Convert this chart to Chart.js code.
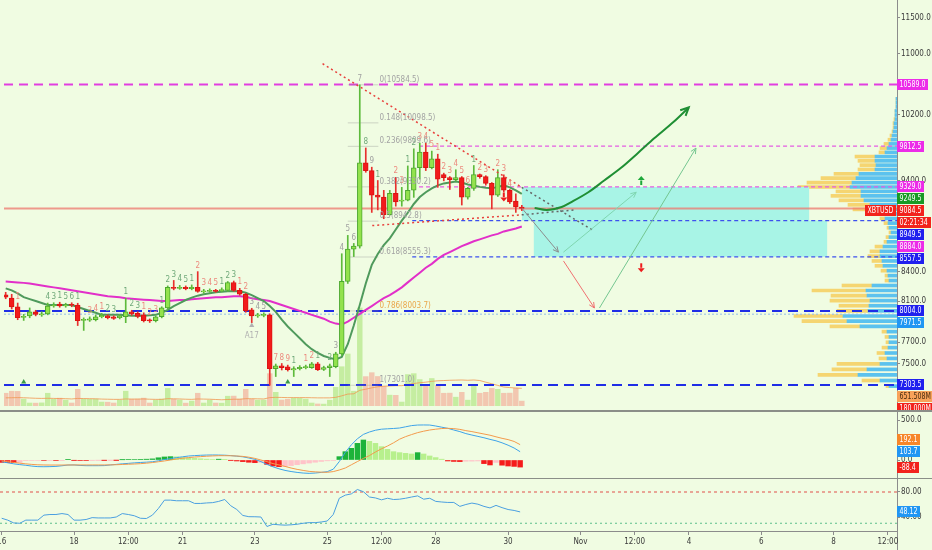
<!DOCTYPE html>
<html>
<head>
<meta charset="utf-8">
<title>XBTUSD 4h</title>
<script src="https://cdn.jsdelivr.net/npm/chart.js@4.4.1/dist/chart.umd.min.js"></script>
<style>
  html, body { margin: 0; padding: 0; }
  body { width: 932px; height: 550px; overflow: hidden; background: #f0fce2; position: relative; }
  .box { position: absolute; left: 0; }
  .sep { position: absolute; left: 0; width: 932px; background: #8b8e88; }
  .vline { position: absolute; left: 897px; top: 0; width: 1px; height: 550px; background: #8c8c8c; }
</style>
</head>
<body>
<div class="vline"></div>
<div class="box" style="top:0;width:897px;height:410px"><canvas id="profile"></canvas></div>
<div class="box" style="top:0;width:932px;height:410px"><canvas id="price"></canvas></div>
<div class="sep" style="top:410px;height:2px"></div>
<div class="box" style="top:412px;width:932px;height:66px"><canvas id="macd"></canvas></div>
<div class="sep" style="top:478px;height:1px"></div>
<div class="box" style="top:479px;width:932px;height:71px"><canvas id="rsi"></canvas></div>
<script>
// 4h candles, first one on Oct 16 00:00 (x axis is in days, Nov 1 = 32)
const FIRST_DAY = 16;
const BARS_PER_DAY = 6;
const SYMBOL = 'XBTUSD';
const COUNTDOWN = '02:21:34';

const opens = [8165,8131,8043,7940,7955,7994,7965,7975,8052,8072, 8052,8070,8062,7910,7912,7917,7946,7955,7945,7936,
  7946,7994,7980,7965,7915,7907,7946,8033,8240,8230, 8240,8228,8240,8195,8200,8210,8205,8210,8290,8210,
  8170,8014,7955,7960,7965,7452,7479,7470,7440,7452, 7461,7461,7497,7445,7461,7470,7590,8301,8639,8671,
  9612,9519,9235,9213,9014,9257,9168,9179,9291,9553, 9740,9553,9660,9473,9438,9415,9438,9213,9313,9473,
  9450,9370,9235,9438,9291,9168,9101];
const highs = [8190,8170,8082,7970,8033,8010,7995,8082,8085,8090, 8080,8085,8080,7935,7945,7965,7980,7965,7955,7970,
  8131,8010,7995,7985,7925,7955,8045,8255,8311,8260, 8255,8265,8402,8220,8225,8220,8235,8300,8305,8230,
  8180,8030,7980,7985,7975,7495,7500,7485,7470,7480, 7485,7510,7510,7475,7495,7605,8590,8787,8700,10584.5,
  9790,9560,9404,9290,9290,9440,9325,9575,9780,9850, 9850,9752,9715,9490,9450,9530,9450,9325,9580,9480,
  9460,9380,9530,9470,9300,9250,9120];
const lows = [8125,8023,7917,7910,7936,7955,7950,7965,8040,8040, 8040,8045,7860,7813,7900,7905,7935,7925,7920,7925,
  7888,7960,7935,7895,7890,7895,7935,8025,8215,8220, 8215,8215,8190,8180,8190,8190,8195,8200,8200,8160,
  7990,7888,7940,7945,7301,7380,7440,7430,7380,7440, 7450,7455,7435,7435,7380,7460,7575,8280,8560,8650,
  9500,9040,9068,8970,9010,9110,9110,9170,9210,9420, 9520,9540,9325,9400,9300,9400,9123,9190,9290,9430,
  9350,9080,9220,9270,9140,9040,9060];
const closes = [8141,8043,7936,7950,7994,7968,7975,8052,8062,8052, 8065,8060,7907,7920,7925,7946,7960,7936,7930,7955,
  7994,7975,7950,7907,7905,7946,8033,8240,8230,8240, 8228,8240,8200,8203,8210,8200,8218,8290,8210,8170,
  8004,7955,7965,7970,7452,7479,7461,7442,7452,7465, 7470,7497,7443,7461,7479,7589,8301,8639,8671,9612,
  9519,9235,9213,9014,9257,9157,9179,9291,9553,9740, 9553,9660,9420,9438,9415,9438,9213,9313,9473,9450,
  9370,9235,9438,9291,9157,9101,9084.5];
// volume in millions of contracts
const volumes = [470,545,540,255,110,105,115,470,250,290, 215,110,615,255,250,255,145,140,110,220,
  545,250,255,290,110,215,255,650,250,220, 105,180,470,110,215,110,105,360,365,255,
  615,250,215,220,1195,505,220,250,290,285, 255,110,75,70,215,690,1450,1920,545,3620,
  1085,1230,1090,725,400,395,145,1160,1195,975, 795,1015,760,470,475,325,505,215,800,470,
  505,650,615,470,475,655,180];
const volumeMA = [300,305,310,305,295,285,280,285,280,275, 270,260,280,275,270,265,255,250,245,245,
  260,255,255,260,250,245,245,270,265,260, 250,245,260,255,250,240,230,240,250,250,
  270,270,265,260,310,320,315,310,310,310, 310,305,300,300,300,320,375,440,450,580,
  620,670,710,730,740,750,750,790,830,860, 880,910,930,940,950,955,960,950,960,940,
  880,820,760,700,680,665,651.508];
const emaFast = [8230,8210,8180,8141,8121,8102,8082,8062,8062,8062, 8062,8062,8043,8023,8004,7985,7965,7965,7965,7965,
  7960,7955,7955,7955,7960,7965,7985,8014,8052,8082, 8112,8136,8156,8171,8180,8190,8195,8200,8200,8200,
  8185,8161,8131,8102,8052,7994,7917,7851,7794,7737, 7681,7634,7598,7570,7552,7538,7561,7681,7860,8062,
  8280,8473,8587,8681,8755,8851,8948,9036,9135,9213, 9268,9313,9347,9370,9381,9393,9381,9358,9347,9330,
  9319,9313,9330,9347,9325,9291,9249.5];
const emaSlow = [8301,8296,8291,8286,8280,8270,8260,8250,8240,8230, 8220,8210,8200,8190,8180,8171,8161,8151,8146,8141,
  8131,8126,8121,8116,8112,8107,8102,8102,8107,8112, 8112,8121,8126,8131,8136,8141,8141,8146,8151,8151,
  8146,8131,8121,8112,8102,8082,8062,8043,8023,8004, 7985,7965,7946,7927,7898,7879,7870,7898,7936,7975,
  8014,8052,8092,8131,8161,8200,8240,8291,8341,8391, 8442,8483,8535,8577,8608,8639,8671,8697,8723,8744,
  8765,8787,8803,8830,8846,8862,8884];
const macdLine = [-22,-35,-48,-58,-66,-76,-83,-84,-83,-80, -72,-63,-62,-68,-71,-71,-71,-70,-62,-55,
  -48,-42,-36,-31,-27,-22,-10,5,18,30, 40,50,55,59,62,63,62,60,55,48,
  40,25,8,-20,-55,-85,-110,-130,-144,-155, -163,-167,-163,-155,-146,-115,-20,95,190,265,
  320,350,372,385,390,394,400,415,430,437, 438,437,425,410,396,375,355,330,312,295,
  278,258,240,215,185,150,103.7];
const signalLine = [-12,-20,-30,-40,-48,-55,-60,-62,-63,-63, -63,-62,-62,-62,-62,-62,-62,-62,-61,-59,
  -56,-53,-50,-46,-40,-32,-22,-12,0,12, 22,30,37,42,47,51,54,54,53,50,
  45,35,20,0,-20,-45,-62,-80,-100,-117, -130,-142,-148,-152,-154,-145,-125,-100,-60,-20,
  20,55,100,140,175,215,260,292,318,342, 360,375,385,393,396,392,383,367,355,340,
  325,310,290,271,255,232,192.1];
const macdHist = [-30,-32,-33,-30,-8,-7,-6,-6,-5,-5, -4,4,-3,-5,-5,-3,-2,-2,-1,-1,
  3,5,6,8,10,14,28,38,42,40, 32,26,20,15,10,6,10,4,-3,-12,
  -20,-28,-33,-30,-55,-75,-83,-80,-70,-58, -48,-38,-28,-18,-10,-5,42,104,146,208,
  250,233,208,167,133,104,92,83,75,92, 75,50,30,10,-12,-18,-20,-15,-14,-12,
  -45,-62,-30,-65,-75,-80,-88.4];
const rsiLine = [38,35,30.5,30,35,35,35,43,44,44, 45.5,44,35,35,36,39,38.5,38.5,38.5,40,
  45.5,44,42,38,37.6,43,53.7,67,67,66, 66,66,61.7,61.7,62.5,63,65,68,58,52,
  42.5,40.5,40.4,40,24.8,28.4,27.5,27,27.5,28.4, 30,31,31,32,33.6,44,70,75,77,84,
  80.5,72,70.5,67.5,70,68,68.5,70,72,73.8, 68.5,70,65,64,63.3,63.3,57,60,62.3,60.5,
  57,54.5,58.6,55,52,50.5,48.12];
const rsiUpper = 80, rsiLower = 30;

// visible range volume profile, rows of 50 USD (row centres)
const profilePrices = [7325,7375,7425,7475,7525,7575,7625,7675,7725,7775, 7825,7875,7925,7975,8025,8075,8125,8175,8225,8275,
  8325,8375,8425,8475,8525,8575,8625,8675,8725,8775, 8825,8875,8925,8975,9025,9075,9125,9175,9225,9275,
  9325,9375,9425,9475,9525,9575,9625,9675,9725,9775, 9825,9875,9925,9975,10025,10075,10125,10175,10225,10275,
  10325,10375];
const profileUp = [8,17,39,30,17,10,12,9,8,8, 10,37,50,54,29,28,27,30,31,25,
  8,9,10,14,15,17,17,14,10,8, 6,8,9,12,18,22,27,33,36,36,
  47,45,41,38,22,21,22,22,12,10, 8,6,5,4,3,3,2,2,2,1, 1,1];
const profileDown = [3,18,40,35,43,8,8,6,3,4, 5,30,45,49,31,30,40,36,54,30,
  4,3,6,8,10,12,10,8,3,3, 2,2,4,5,12,22,22,25,30,25,
  52,45,35,25,17,16,17,20,6,7, 5,3,2,1,1,1,1,0,0,0, 0,0];

const levelPrices = [10589.0, 9812.5, 9329.0, 8949.5, 8557.5, 8004.0, 7971.5, 7303.5];
const levelStartDays = [null, 27.48, 27.48, 27.29, 27.29, null, null, null];
const fibRatios = [0, 0.148, 0.236, 0.382, 0.5, 0.618, 0.786, 1];
const fibPrices = [10584.5, 10098.5, 9809.6, 9330.2, 8942.8, 8555.3, 8003.7, 7301.0];

const zoneStart = [30.33, 30.66];
const zoneEnd = [38.32, 38.82];
const zoneTop = [9329.0, 8949.5];
const zoneBottom = [8949.5, 8557.5];

// drawings: [day, price]
const upperTrend = [[24.80, 10865], [30.33, 9325]];
const upperTrendExt = [[30.33, 9325], [32.32, 8840]];
const lowerTrend = [[26.18, 8894], [30.33, 9013]];
const lowerTrendExt = [[30.33, 9013], [31.79, 9068]];
const bullPath = [[30.69, 9090], [31.02, 9068], [31.44, 9101], [31.71, 9157], [32.18, 9268], [32.62, 9404],
  [33.09, 9553], [33.56, 9730], [34.01, 9907], [34.56, 10115], [34.97, 10293]];
const dropArrow = [[30.33, 9090], [31.35, 8607]];
const bounceArrow = [[31.49, 8607], [33.51, 9268]];
const deepDropArrow = [[31.49, 8514], [32.35, 8033]];
const recoveryArrow = [[32.49, 8033], [35.17, 9788]];
const signalUp = [[33.65, 9404]];
const signalDown = [[33.65, 8442], [29.833, 9213]];
const buyMarks = [[16.5, 7330], [23.833, 7330]];
const grayMarks = [[22.833, 7860]];
const notes = [[22.833, 7756, 'A17']];

// TD sequential counts: [bar, text, tone]
const tdMarks = [[2,'1','r'],[7,'4','g'],[8,'3','g'],[9,'1','g'],[10,'5','g'],[11,'6','g'],[12,'1','g'],
  [14,'3','r'],[15,'4','r'],[16,'1','r'],[17,'2','g'],[18,'3','g'],[20,'1','g'],[21,'2','g'],[22,'3','g'],
  [23,'1','r'],[24,'2','r'],[25,'3','r'],[26,'1','g'],[27,'2','g'],[28,'3','g'],[29,'4','g'],[30,'5','g'],
  [31,'1','g'],[32,'2','r'],[33,'3','r'],[34,'4','r'],[35,'5','r'],[36,'1','g'],[37,'2','g'],[38,'3','g'],
  [39,'1','r'],[40,'2','r'],[41,'3','k'],[42,'4','k'],[43,'5','k'],[45,'7','r'],[46,'8','r'],[47,'9','r'],
  [48,'1','g'],[50,'1','r'],[51,'2','r'],[52,'1','g'],[54,'2','g'],[55,'3','k'],[56,'4','k'],[57,'5','k'],
  [58,'6','k'],[59,'7','k'],[60,'8','g'],[61,'9','k'],[62,'1','g'],[65,'2','r'],[66,'3','r'],[67,'1','g'],
  [68,'2','g'],[69,'3','r'],[70,'4','r'],[71,'5','r'],[72,'1','r'],[73,'2','r'],[74,'3','r'],[75,'4','r'],
  [76,'5','r'],[77,'6','r'],[78,'1','g'],[79,'2','r'],[80,'3','r'],[82,'2','r'],[83,'3','r'],[84,'4','r']];

const xTickDays = [16, 18, 19.5, 21, 23, 25, 26.5, 28, 30, 32, 33.5, 35, 37, 39, 40.5];
const xTickLabels = ['16','18','12:00','21','23','25','12:00','28','30','Nov','12:00','4','6','8','12:00'];
const priceTicks = [7500, 7700, 8100, 8400, 9400, 10200, 11000, 11500];
const macdTicks = [0, 500];
const rsiTicks = [40, 80];

// ---- scales / look ----
const X_MIN = 15.953, X_MAX = 40.753;
const PRICE_MIN = 7116, PRICE_MAX = 11697;
const VOL_MAX = 14842;
const PROFILE_MAX = 897;
const AXIS_W = 35;
const FONT = '"Liberation Sans Narrow", "DejaVu Sans Condensed", "Liberation Sans", sans-serif';
const TAG_FONT = '8.5px ' + FONT;
const TAG_SQUEEZE = 0.82;
const TAG_BOX = 11, TAG_STEP = 12;

Chart.defaults.font.family = FONT;
Chart.defaults.font.size = 8;
Chart.defaults.color = '#3a3a3a';
Chart.defaults.animation = false;
Chart.defaults.plugins.legend.display = false;
Chart.defaults.plugins.tooltip.enabled = false;

const last = a => a[a.length - 1];
const barDay = i => FIRST_DAY + i / BARS_PER_DAY;
const days = opens.map((_, i) => barDay(i));
const isUp = i => closes[i] >= opens[i];

function line(points, o) {
  return Object.assign({
    type: 'line', data: points.map(p => ({ x: p[0], y: p[1] })),
    pointRadius: 0, borderWidth: 1, fill: false, tension: 0
  }, o);
}
function series(values, o) {
  return Object.assign({
    type: 'line', data: values.map((v, i) => ({ x: days[i], y: v })),
    pointRadius: 0, borderWidth: 1, fill: false, tension: 0
  }, o);
}
function rightAxis(extra) {
  return Object.assign({
    position: 'right',
    afterFit(s) { s.width = AXIS_W; s.paddingTop = 0; s.paddingBottom = 0; },
    grid: { drawOnChartArea: false, drawTicks: true, tickLength: 3, color: '#8c8c8c' },
    border: { display: true, color: '#8c8c8c' },
    ticks: { padding: 1, autoSkip: false, color: '#3a3a3a' }
  }, extra);
}
function timeAxis(show) {
  return {
    type: 'linear', min: X_MIN, max: X_MAX, offset: false, display: show,
    afterFit(s) { s.paddingLeft = 0; s.paddingRight = 0; if (show) s.height = 19; },
    afterBuildTicks(s) { s.ticks = xTickDays.map(v => ({ value: v })); },
    grid: { drawOnChartArea: false, drawTicks: true, tickLength: 4, color: '#8c8c8c' },
    border: { display: true, color: '#8c8c8c' },
    ticks: { autoSkip: false, maxRotation: 0, padding: 2, color: '#3a3a3a', callback: (v, i) => xTickLabels[i] }
  };
}

function stackTags(tags, step, dir) {
  const list = tags.slice().sort((a, b) => dir > 0 ? a.y - b.y : b.y - a.y);
  let prev = null;
  list.forEach(t => {
    if (prev !== null) t.y = dir > 0 ? Math.max(t.y, prev + step) : Math.min(t.y, prev - step);
    prev = t.y;
  });
  return list;
}
function tagWidth(ctx, text) {
  ctx.font = TAG_FONT;
  return Math.ceil(ctx.measureText(text).width * TAG_SQUEEZE) + 5;
}
function drawTag(ctx, x, y, text, bg, fg) {
  const w = tagWidth(ctx, text);
  const top = Math.round(y - TAG_BOX / 2);
  ctx.fillStyle = bg;
  ctx.fillRect(x, top, w, TAG_BOX);
  ctx.save();
  ctx.fillStyle = fg;
  ctx.textAlign = 'left';
  ctx.textBaseline = 'middle';
  ctx.translate(x + 2.5, top + TAG_BOX / 2 + 0.5);
  ctx.scale(TAG_SQUEEZE, 1);
  ctx.fillText(text, 0, 0);
  ctx.restore();
}
function tagPlugin(build, dir) {
  return {
    id: 'axisTags',
    afterDraw(chart) {
      const ctx = chart.ctx, right = chart.chartArea.right;
      ctx.save();
      stackTags(build(chart), TAG_STEP, dir).forEach(t => {
        drawTag(ctx, right, t.y, t.text, t.bg, t.fg);
        if (t.symbol) drawTag(ctx, right - tagWidth(ctx, t.symbol) - 1, t.y, t.symbol, t.bg, t.fg);
      });
      ctx.restore();
    }
  };
}
function arrowIcon(ctx, x, y, dir, color) {
  // dir -1 points up, 1 points down
  ctx.fillStyle = color;
  ctx.beginPath();
  ctx.moveTo(x, y + dir * 4.5);
  ctx.lineTo(x - 3.5, y + dir * 0.5);
  ctx.lineTo(x + 3.5, y + dir * 0.5);
  ctx.closePath();
  ctx.fill();
  ctx.fillRect(x - 1, dir < 0 ? y : y - 4.5, 2, 4.5);
}

// ---- price pane ----
const LEVEL_STYLE = [
  { c: '#e13ee0', w: 2, d: [9, 6] }, { c: '#e35ce2', w: 1.2, d: [4, 3] }, { c: '#e35ce2', w: 1.2, d: [4, 3] },
  { c: '#3c50ee', w: 1.2, d: [4, 3] }, { c: '#3c50ee', w: 1.2, d: [4, 3] }, { c: '#1f2de6', w: 2, d: [10, 6] },
  { c: '#93bde8', w: 1, d: [2, 2] }, { c: '#1f2de6', w: 2, d: [10, 6] }
];
const LEVEL_TAG = ['#ec2ce8', '#ec2ce8', '#ec2ce8', '#2020ee', '#2020ee', '#2020ee', '#2196f3', '#2020ee'];
const TD_COLOR = { g: '#70a97a', r: '#ec8a7e', k: '#a0a0a0' };

const priceSets = [];
zoneStart.forEach((s, k) => priceSets.push(line([[s, zoneTop[k]], [zoneEnd[k], zoneTop[k]]], {
  borderColor: 'rgba(0,0,0,0)', backgroundColor: '#a8f4e6', fill: { value: zoneBottom[k] }, order: 100 - k
})));
priceSets.push({
  type: 'bar', yAxisID: 'vol', data: days.map((d, i) => ({ x: d, y: volumes[i] })),
  backgroundColor: days.map((d, i) => isUp(i) ? 'rgba(150,222,90,0.48)' : 'rgba(245,135,115,0.45)'),
  barThickness: 4.8, grouped: false, order: 95
});
priceSets.push(series(volumeMA, { yAxisID: 'vol', borderColor: 'rgba(240,150,80,0.8)', order: 94 }));
levelPrices.forEach((p, k) => {
  const st = LEVEL_STYLE[k];
  priceSets.push(line([[levelStartDays[k] ?? X_MIN, p], [X_MAX, p]], {
    borderColor: st.c, borderWidth: st.w, borderDash: st.d, order: 90 - k
  }));
});
fibPrices.forEach((p, k) => priceSets.push(line([[25.5, p], [26.35, p]], {
  borderColor: 'rgba(140,140,140,0.35)', order: 80
})));
priceSets.push(line([[X_MIN, last(closes)], [X_MAX, last(closes)]], {
  borderColor: 'rgba(238,120,110,0.75)', borderWidth: 2, order: 78
}));
priceSets.push(series(emaSlow, { borderColor: '#e22fc9', borderWidth: 2, order: 75 }));
priceSets.push(series(emaFast, { borderColor: '#4f9a5c', borderWidth: 2, order: 74 }));
priceSets.push({
  type: 'bar', data: days.map((d, i) => ({ x: d, y: [lows[i], highs[i]] })),
  backgroundColor: days.map((d, i) => isUp(i) ? '#5dba3b' : '#e8302e'),
  barThickness: 1, grouped: false, minBarLength: 1, order: 70
});
priceSets.push({
  type: 'bar', data: days.map((d, i) => ({ x: d, y: [opens[i], closes[i]] })),
  backgroundColor: days.map((d, i) => isUp(i) ? '#93e24d' : '#f21b1b'),
  borderColor: days.map((d, i) => isUp(i) ? '#4ca82e' : '#dc1212'),
  borderWidth: 1, borderSkipped: false, barThickness: 4.8, grouped: false, minBarLength: 1, order: 69
});
priceSets.push(line(upperTrend, { borderColor: '#e8403c', borderWidth: 1.5, borderDash: [2, 3], order: 60 }));
priceSets.push(line(upperTrendExt, { borderColor: '#666666', borderWidth: 1.5, borderDash: [2, 3], order: 59 }));
priceSets.push(line(lowerTrend, { borderColor: '#e8403c', borderWidth: 1.5, borderDash: [2, 3], order: 58 }));
priceSets.push(line(lowerTrendExt, { borderColor: '#666666', borderWidth: 1.5, borderDash: [2, 3], order: 57 }));
priceSets.push(line(dropArrow, { borderColor: '#8c8c8c', arrowHead: 6, order: 55 }));
priceSets.push(line(bounceArrow, { borderColor: '#7fd6b0', arrowHead: 6, order: 54 }));
priceSets.push(line(deepDropArrow, { borderColor: '#f07070', arrowHead: 6, order: 53 }));
priceSets.push(line(recoveryArrow, { borderColor: '#74c690', arrowHead: 6, order: 52 }));
priceSets.push(line(bullPath, { borderColor: '#1f8f34', borderWidth: 2, cubicInterpolationMode: 'monotone', arrowHead: 9, order: 50 }));
priceSets.push(line(buyMarks, { showLine: false, pointRadius: 3, pointStyle: 'triangle', pointBackgroundColor: '#3a9a4a', pointBorderWidth: 0, order: 40 }));
priceSets.push(line(grayMarks, { showLine: false, pointRadius: 3, pointStyle: 'triangle', pointBackgroundColor: '#b0b0b0', pointBorderWidth: 0, order: 41 }));

const priceMarks = {
  id: 'priceMarks',
  afterDatasetsDraw(chart) {
    const ctx = chart.ctx, xs = chart.scales.x, ys = chart.scales.y;
    ctx.save();
    chart.data.datasets.forEach((ds, k) => {
      if (!ds.arrowHead) return;
      const pts = chart.getDatasetMeta(k).data;
      const a = pts[pts.length - 2], b = pts[pts.length - 1];
      const ang = Math.atan2(b.y - a.y, b.x - a.x), L = ds.arrowHead;
      ctx.strokeStyle = ds.borderColor;
      ctx.lineWidth = ds.borderWidth;
      ctx.setLineDash([]);
      ctx.beginPath();
      ctx.moveTo(b.x - L * Math.cos(ang - 0.45), b.y - L * Math.sin(ang - 0.45));
      ctx.lineTo(b.x, b.y);
      ctx.lineTo(b.x - L * Math.cos(ang + 0.45), b.y - L * Math.sin(ang + 0.45));
      ctx.stroke();
    });
    ctx.font = '8px ' + FONT;
    ctx.textAlign = 'center';
    ctx.textBaseline = 'bottom';
    tdMarks.forEach(([i, t, tone]) => {
      ctx.fillStyle = TD_COLOR[tone];
      ctx.fillText(t, xs.getPixelForValue(barDay(i)), ys.getPixelForValue(highs[i]) - 2);
    });
    ctx.textAlign = 'left';
    fibRatios.forEach((r, k) => {
      ctx.fillStyle = r === 0.786 ? '#eaa64a' : '#a3a3a3';
      ctx.fillText(`${r}(${fibPrices[k].toFixed(1)})`, xs.getPixelForValue(26.38), ys.getPixelForValue(fibPrices[k]) - 1);
    });
    ctx.textAlign = 'center';
    ctx.textBaseline = 'middle';
    notes.forEach(([d, p, t]) => {
      ctx.fillStyle = '#b0b0b0';
      ctx.fillText(t, xs.getPixelForValue(d), ys.getPixelForValue(p));
    });
    signalUp.forEach(([d, p]) => arrowIcon(ctx, xs.getPixelForValue(d), ys.getPixelForValue(p), -1, '#1ea83a'));
    signalDown.forEach(([d, p]) => arrowIcon(ctx, xs.getPixelForValue(d), ys.getPixelForValue(p), 1, '#ee1c1c'));
    ctx.restore();
  }
};

new Chart(document.getElementById('price'), {
  type: 'bar',
  data: { datasets: priceSets },
  options: {
    responsive: true, maintainAspectRatio: false, layout: { padding: 0 },
    scales: {
      x: timeAxis(false),
      y: rightAxis({
        type: 'logarithmic', min: PRICE_MIN, max: PRICE_MAX, bounds: 'data',
        afterBuildTicks(s) { s.ticks = priceTicks.map(v => ({ value: v })); },
        ticks: { padding: 1, autoSkip: false, color: '#3a3a3a', callback: v => Number(v).toFixed(1) }
      }),
      vol: { type: 'linear', display: false, min: 0, max: VOL_MAX }
    }
  },
  plugins: [priceMarks, tagPlugin(chart => {
    const ys = chart.scales.y, vs = chart.scales.vol;
    const tags = levelPrices.map((p, k) => ({ y: ys.getPixelForValue(p), text: p.toFixed(1), bg: LEVEL_TAG[k], fg: '#ffffff' }));
    tags.push({ y: ys.getPixelForValue(last(emaFast)), text: last(emaFast).toFixed(1), bg: '#179a25', fg: '#ffffff' });
    tags.push({ y: ys.getPixelForValue(last(emaSlow)), text: last(emaSlow).toFixed(1), bg: '#ec2ce8', fg: '#ffffff' });
    const cy = ys.getPixelForValue(last(closes));
    tags.push({ y: cy, text: last(closes).toFixed(1), bg: '#f2231c', fg: '#ffffff', symbol: SYMBOL });
    tags.push({ y: cy + 0.01, text: COUNTDOWN, bg: '#f2231c', fg: '#ffffff' });
    tags.push({ y: vs.getPixelForValue(last(volumeMA)), text: last(volumeMA).toFixed(3) + 'M', bg: '#f8a25a', fg: '#4a2d10' });
    tags.push({ y: vs.getPixelForValue(last(volumes)), text: last(volumes).toFixed(3) + 'M', bg: '#f2231c', fg: '#ffffff' });
    return tags;
  }, 1)]
});

// ---- volume profile (drawn under the price pane) ----
new Chart(document.getElementById('profile'), {
  type: 'bar',
  data: {
    datasets: [
      { data: profilePrices.map((p, i) => ({ y: p, x: profileUp[i] })), backgroundColor: '#5cc2ee', barThickness: 3 },
      { data: profilePrices.map((p, i) => ({ y: p, x: profileDown[i] })), backgroundColor: '#f5d571', barThickness: 3 }
    ]
  },
  options: {
    indexAxis: 'y', responsive: true, maintainAspectRatio: false, layout: { padding: 0 },
    scales: {
      y: { type: 'logarithmic', min: PRICE_MIN, max: PRICE_MAX, display: false, stacked: true, offset: false },
      x: { type: 'linear', min: 0, max: PROFILE_MAX, reverse: true, display: false, stacked: true }
    }
  }
});

// ---- MACD pane ----
function histColor(i) {
  const v = macdHist[i], p = i > 0 ? macdHist[i - 1] : v;
  if (v >= 0) return v >= p ? '#1db33a' : '#b7f08d';
  return v <= p ? '#f51b1b' : '#ffc3c9';
}
new Chart(document.getElementById('macd'), {
  type: 'bar',
  data: {
    datasets: [
      series(signalLine, { borderColor: '#f39a4c', order: 1 }),
      series(macdLine, { borderColor: '#3ea3e8', order: 2 }),
      { type: 'bar', data: days.map((d, i) => ({ x: d, y: macdHist[i] })), backgroundColor: days.map((d, i) => histColor(i)),
        barThickness: 4.8, grouped: false, order: 3 }
    ]
  },
  options: {
    responsive: true, maintainAspectRatio: false, layout: { padding: 0 },
    scales: {
      x: timeAxis(false),
      y: rightAxis({
        type: 'linear', min: -225, max: 600,
        afterBuildTicks(s) { s.ticks = macdTicks.map(v => ({ value: v })); },
        ticks: { padding: 1, autoSkip: false, color: '#3a3a3a', callback: v => Number(v).toFixed(1) }
      })
    }
  },
  plugins: [tagPlugin(chart => {
    const ys = chart.scales.y;
    return [
      { y: ys.getPixelForValue(last(signalLine)), text: last(signalLine).toFixed(1), bg: '#f7862a', fg: '#ffffff' },
      { y: ys.getPixelForValue(last(macdLine)), text: last(macdLine).toFixed(1), bg: '#2196f3', fg: '#ffffff' },
      { y: ys.getPixelForValue(last(macdHist)), text: last(macdHist).toFixed(1), bg: '#f2231c', fg: '#ffffff' }
    ];
  }, -1)]
});

// ---- RSI pane ----
new Chart(document.getElementById('rsi'), {
  type: 'line',
  data: {
    datasets: [
      series(rsiLine, { borderColor: '#4a9fe0' }),
      line([[X_MIN, rsiUpper], [X_MAX, rsiUpper]], { borderColor: '#e0504a', borderDash: [3, 3] }),
      line([[X_MIN, rsiLower], [X_MAX, rsiLower]], { borderColor: '#5cbf8a', borderDash: [2, 3] })
    ]
  },
  options: {
    responsive: true, maintainAspectRatio: false, layout: { padding: 0 },
    scales: {
      x: timeAxis(true),
      y: rightAxis({
        type: 'linear', min: 17.6, max: 100.8,
        afterBuildTicks(s) { s.ticks = rsiTicks.map(v => ({ value: v })); },
        ticks: { padding: 1, autoSkip: false, color: '#3a3a3a', callback: v => Number(v).toFixed(2) }
      })
    }
  },
  plugins: [tagPlugin(chart => [
    { y: chart.scales.y.getPixelForValue(last(rsiLine)), text: last(rsiLine).toFixed(2), bg: '#2196f3', fg: '#ffffff' }
  ], 1)]
});
</script>
</body>
</html>
